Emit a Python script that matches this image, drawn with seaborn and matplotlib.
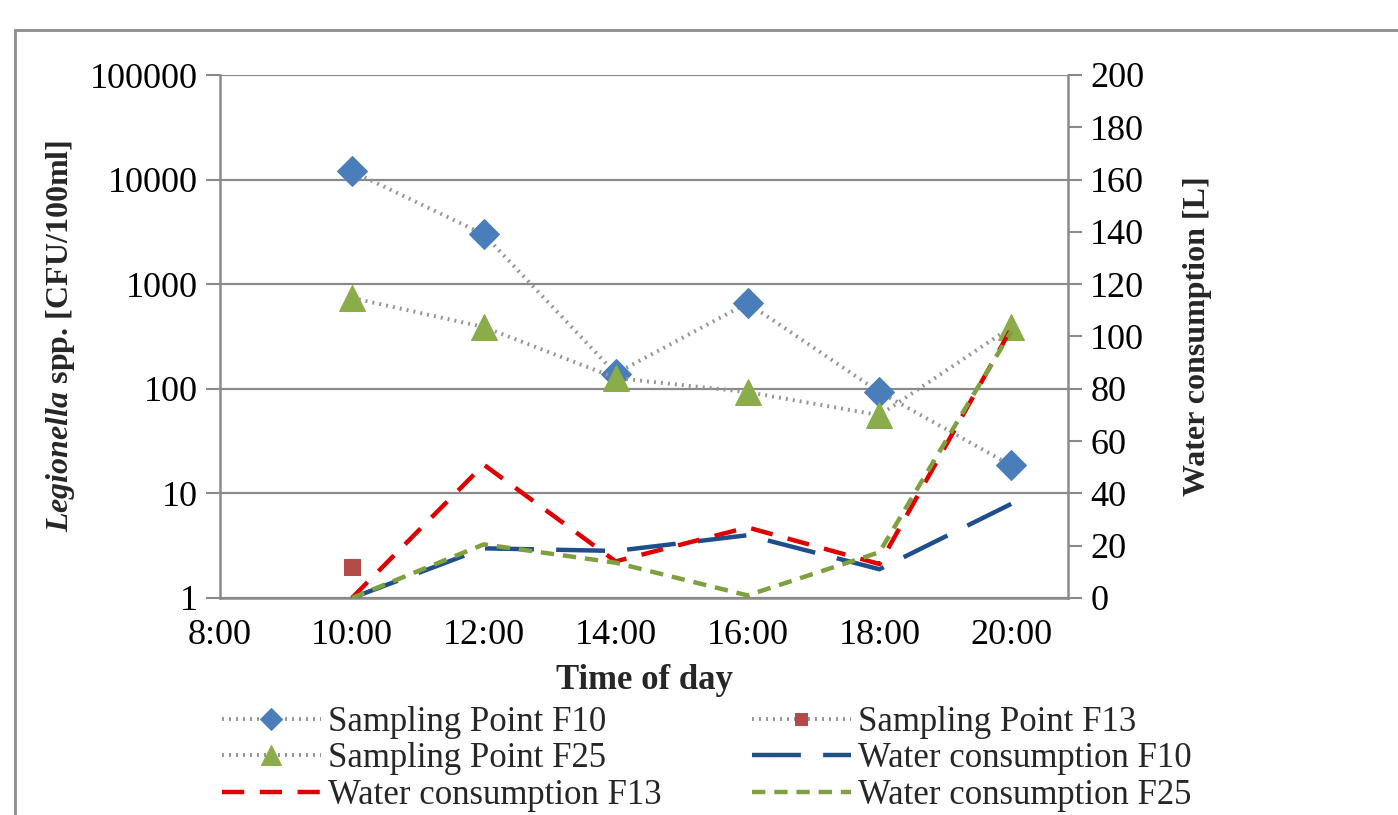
import numpy as np
import pandas as pd
import matplotlib
matplotlib.use("Agg")
import matplotlib.pyplot as plt
import seaborn as sns
from matplotlib.patches import Rectangle
from matplotlib.ticker import FixedLocator, FuncFormatter, NullLocator

# data
times = ["8:00", "10:00", "12:00", "14:00", "16:00", "18:00", "20:00"]

sp_f10 = [np.nan, 12000, 3000, 140, 660, 93, 18.5]
sp_f13 = [np.nan, 2.0, np.nan, np.nan, np.nan, np.nan, np.nan]
sp_f25 = [np.nan, 740, 390, 127, 93, 56, 390]

wc_f10 = [np.nan, 0, 19, 18, 24, 11, 36]
wc_f13 = [np.nan, 0, 51, 14, 27, 13, 103]
wc_f25 = [np.nan, 0, 20.5, 13.5, 1, 17.5, 102]

sns.set_style("white")
plt.rcParams["font.family"] = ["Liberation Serif", "DejaVu Serif"]
plt.rcParams["mathtext.fontset"] = "custom"
plt.rcParams["mathtext.it"] = "Liberation Serif:italic:bold"
plt.rcParams["mathtext.rm"] = "Liberation Serif:bold"
plt.rcParams["mathtext.bf"] = "Liberation Serif:bold"

TICK_FS = 26
LAB_FS = 23
LEG_FS = 25
GRAY = "#8a8a8a"

df = pd.DataFrame({
    "pos": np.arange(len(times)),
    "sp_f10": sp_f10, "sp_f13": sp_f13, "sp_f25": sp_f25,
    "wc_f10": wc_f10, "wc_f13": wc_f13, "wc_f25": wc_f25,
})

fig = plt.figure(figsize=(13.98, 8.15), dpi=100)
ax = fig.add_axes([220 / 1398, 1 - 598 / 815, (1068 - 220) / 1398, (598 - 75) / 815])
ax2 = ax.twinx()

# sampling points (left, log axis)
dotted = (0, (0.5, 1.3))
sns.lineplot(data=df, x="pos", y="sp_f10", ax=ax, color="#959595", lw=2.8,
             linestyle=dotted, marker="D", markersize=15, markerfacecolor="#4a7ebb",
             markeredgecolor="#4a7ebb", label="Sampling Point F10", legend=False)
sns.lineplot(data=df, x="pos", y="sp_f13", ax=ax, color="#959595", lw=2.8,
             linestyle=dotted, marker="s", markersize=12, markerfacecolor="#b34a47",
             markeredgecolor="#b34a47", label="Sampling Point F13", legend=False)
sns.lineplot(data=df, x="pos", y="sp_f25", ax=ax, color="#959595", lw=2.8,
             linestyle=dotted, marker="^", markersize=19, markerfacecolor="#8aac4a",
             markeredgecolor="#8aac4a", label="Sampling Point F25", legend=False)

# water consumption (right axis)
sns.lineplot(data=df, x="pos", y="wc_f10", ax=ax2, color="#1f4e8c", lw=3.2,
             linestyle=(0, (11, 5)), label="Water consumption F10", legend=False)
sns.lineplot(data=df, x="pos", y="wc_f13", ax=ax2, color="#e00000", lw=3.2,
             linestyle=(0, (5, 3.5)), label="Water consumption F13", legend=False)
sns.lineplot(data=df, x="pos", y="wc_f25", ax=ax2, color="#7ea03e", lw=3.2,
             linestyle=(0, (3, 2)), label="Water consumption F25", legend=False)

ax.set_yscale("log")
ax.set_ylim(1, 100000)
ax.yaxis.set_major_locator(FixedLocator([1, 10, 100, 1000, 10000, 100000]))
ax.yaxis.set_major_formatter(FuncFormatter(lambda v, p: f"{v:.0f}"))
ax.yaxis.set_minor_locator(NullLocator())
ax.set_xlim(0, 6.43)
ax.set_xticks(np.arange(len(times)))
ax.set_xticklabels(times)

ax2.set_ylim(0, 200)
ax2.set_yticks(np.arange(0, 201, 20))
ax2.set_xlim(0, 6.43)

ax.grid(axis="y", color=GRAY, lw=1.6)
ax.grid(axis="x", visible=False)
ax2.grid(False)

for a in (ax, ax2):
    for s in a.spines.values():
        s.set_visible(False)
    a.tick_params(labelsize=TICK_FS, colors="black", length=10, width=1.5, color=GRAY, pad=6)
ax.spines["left"].set_visible(True)
ax.spines["bottom"].set_visible(True)
ax2.spines["right"].set_visible(True)
for s in (ax.spines["left"], ax.spines["bottom"], ax2.spines["right"]):
    s.set_color(GRAY)
    s.set_linewidth(1.8)
ax.tick_params(axis="x", length=0, pad=15)
ax.tick_params(axis="y", left=True, direction="out")
ax2.tick_params(axis="y", right=True, direction="out")

ax.set_xlabel("Time of day", fontsize=25, fontweight="bold", labelpad=9)
ax.set_ylabel(r"$\mathit{Legionella}$ spp. [CFU/100ml]", fontsize=LAB_FS,
              fontweight="bold", labelpad=9)
ax2.set_ylabel("Water consumption [L]", fontsize=LAB_FS, fontweight="bold", labelpad=28)

# legend, row-major like the original (matplotlib fills columns first)
h1, l1 = ax.get_legend_handles_labels()
h2, l2 = ax2.get_legend_handles_labels()
hd = dict(zip(l1 + l2, h1 + h2))
order = ["Sampling Point F10", "Sampling Point F25", "Water consumption F13",
         "Sampling Point F13", "Water consumption F10", "Water consumption F25"]
fig.legend([hd[k] for k in order], order, loc="upper left",
           bbox_to_anchor=(222 / 1398, 1 - 706 / 815), ncol=2, frameon=False,
           fontsize=LEG_FS, handlelength=2.85, handletextpad=0.2, columnspacing=2.6,
           labelspacing=0.1, borderpad=0, borderaxespad=0, markerscale=0.75)

# outer frame (cut off at right and bottom like the source image)
fig.add_artist(Rectangle((15 / 1398, -0.2), 2, 1 - 30 / 815 + 0.2,
                         transform=fig.transFigure, fill=False, ec="#8c8c8c", lw=2))

fig.savefig("out.png", dpi=100)
